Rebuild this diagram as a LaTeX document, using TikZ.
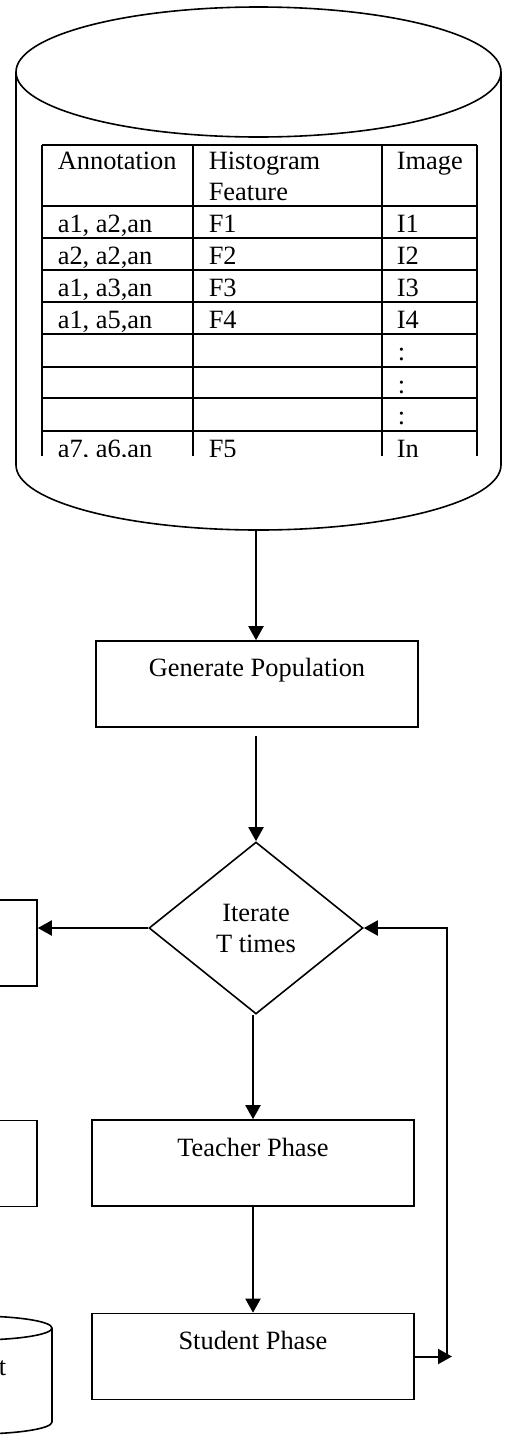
\documentclass[tikz,border=0pt]{standalone}
\usepackage{fontspec}
\setmainfont{Liberation Serif}
\usetikzlibrary{shapes.geometric,arrows.meta}

\begin{document}
\begin{tikzpicture}[x=0.5pt,y=-0.5pt,line width=0.8pt,
        font=\fontsize{13.2}{15.5}\selectfont,
        box/.style={draw,rectangle,minimum width=161pt,minimum height=43pt,inner sep=0pt},
        decision/.style={draw,diamond,minimum width=107pt,minimum height=86pt,inner sep=0pt,align=center},
        cell/.style={anchor=base west,inner sep=0pt},
        arr/.style={-{Triangle[length=7pt,width=7.5pt]},line width=1pt}]
        \path[use as bounding box,clip] (0,0) rectangle (508,1435);

        % Database (big cylinder)
        \draw (258.5,72) ellipse [x radius=242.5,y radius=65];
        \draw (16,72) -- (16,465) arc[start angle=180,end angle=0,x radius=242.5,y radius=65] -- (501,72);
        \coordinate (dbbottom) at (258.5,529);

        % Table inside the database
        \foreach \y in {145,206,238,270,302,334,367,398,431}
            \draw (42,\y) -- (477,\y);
        \foreach \x in {42,193,382,477}
            \draw (\x,145) -- (\x,456);
        \node[cell] (hann) at (57,169) {Annotation};
        \node[cell] (hhist) at (208,169) {Histogram};
        \node[cell] (hfeat) at (208,200) {Feature};
        \node[cell] (himg) at (396,169) {Image};
        \node[cell] (r1a) at (57,232) {a1, a2,an};
        \node[cell] (r1f) at (208,232) {F1};
        \node[cell] (r1i) at (396,232) {I1};
        \node[cell] (r2a) at (57,264) {a2, a2,an};
        \node[cell] (r2f) at (208,264) {F2};
        \node[cell] (r2i) at (396,264) {I2};
        \node[cell] (r3a) at (57,296) {a1, a3,an};
        \node[cell] (r3f) at (208,296) {F3};
        \node[cell] (r3i) at (396,296) {I3};
        \node[cell] (r4a) at (57,328) {a1, a5,an};
        \node[cell] (r4f) at (208,328) {F4};
        \node[cell] (r4i) at (396,328) {I4};
        \node[cell] (r5i) at (397,360) {:};
        \node[cell] (r6i) at (397,393) {:};
        \node[cell] (r7i) at (397,424) {:};
        \begin{scope}
            \clip (0,0) rectangle (508,456); % last row is cut off
            \node[cell] (r8a) at (57,457) {a7, a6,an};
            \node[cell] (r8f) at (208,457) {F5};
            \node[cell] (r8i) at (396,457) {In};
        \end{scope}

        % Flow
        \node[box] (genpop) at (257,684) {};
        \node[anchor=base] (genpoptxt) at ([yshift=-18pt]genpop.north) {Generate Population};
        \node[decision] (iter) at (256,928) {Iterate\\T times};
        \node[box] (teacher) at (253,1163) {};
        \node[anchor=base] (teachertxt) at ([yshift=-18.5pt]teacher.north) {Teacher Phase};
        \node[box] (student) at (253,1356.5) {};
        \node[anchor=base] (studenttxt) at ([yshift=-18.5pt]student.north) {Student Phase};

        % Left column (cut off by the page edge)
        \node[box] (lefttop) at (-124,943) {};
        \node[box] (leftmid) at (-124,1163.5) {};
        \draw (-25,1328) ellipse [x radius=77,y radius=12];
        \draw (52,1328) -- (52,1422) arc[start angle=0,end angle=180,x radius=77,y radius=12];
        \node[anchor=base east,inner sep=0pt] (leftdbtxt) at (7,1375) {t};

        % Connectors
        \draw[arr] (iter.north |- dbbottom) -- (iter.north |- genpop.north);
        \draw[arr] ([yshift=-4pt]iter.north |- genpop.south) -- (iter.north);
        \draw[arr] (iter.west) -- (iter.west -| lefttop.east);
        \draw[arr] (teacher.north |- iter.south) -- (teacher.north);
        \draw[arr] (teacher.south) -- (student.north);
        \coordinate (loopend) at (452,1357);
        \coordinate (loopturn) at (447,1357);
        \draw[arr] (student.east) -- (student.east -| loopend);
        \draw[arr] (loopturn) |- (iter.east);
    \end{tikzpicture}
\end{document}
